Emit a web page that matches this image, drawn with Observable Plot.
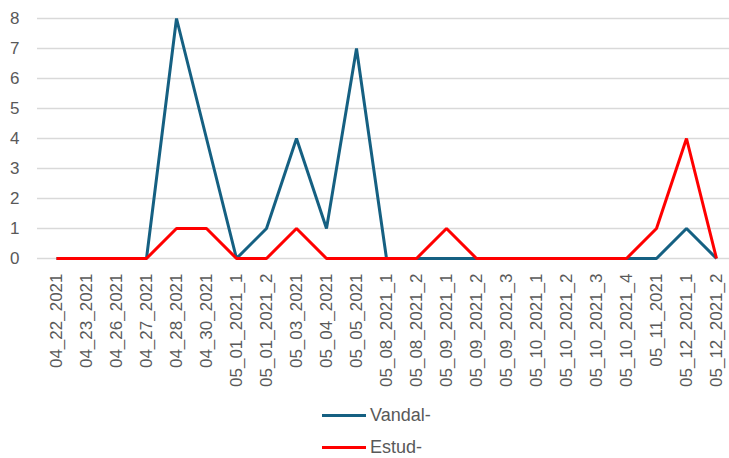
<!DOCTYPE html>
<html>
<head>
<meta charset="utf-8">
<script src="https://cdn.jsdelivr.net/npm/d3@7"></script>
<script src="https://cdn.jsdelivr.net/npm/@observablehq/plot@0.6"></script>
<style>
  html, body { margin: 0; padding: 0; background: #fff; overflow: hidden; }
  #chart { width: 729px; height: 458px; overflow: hidden; position: relative; }
  #chart svg { max-width: none; display: block; }
  .legend { font-family: "Liberation Sans", Arial, sans-serif; font-size: 18px; color: #595959; }
  .legend .item { display: flex; align-items: center; height: 20px; margin-left: 322px; }
  .legend .item:first-child { margin-top: 15px; }
  .legend .item + .item { margin-top: 12px; }
  .legend .sw { width: 44px; height: 3px; margin-right: 4px; }
</style>
</head>
<body>
<div id="chart"></div>
<script>
const categories = [
  "04_22_2021","04_23_2021","04_26_2021","04_27_2021","04_28_2021","04_30_2021",
  "05_01_2021_1","05_01_2021_2","05_03_2021","05_04_2021","05_05_2021",
  "05_08_2021_1","05_08_2021_2","05_09_2021_1","05_09_2021_2","05_09_2021_3",
  "05_10_2021_1","05_10_2021_2","05_10_2021_3","05_10_2021_4","05_11_2021",
  "05_12_2021_1","05_12_2021_2"
];
const vandal = [0,0,0,0,8,4,0,1,4,1,7,0,0,0,0,0,0,0,0,0,0,1,0];
const estud  = [0,0,0,0,1,1,0,0,1,0,0,0,0,1,0,0,0,0,0,0,1,4,0];
const seriesNames = ["Vandal-", "Estud-"];
const seriesColors = ["#156082", "#ff0000"];
const yTicks = [0,1,2,3,4,5,6,7,8];

const rows = [];
[vandal, estud].forEach((vals, s) => {
  vals.forEach((v, i) => rows.push({cat: categories[i], value: v, series: seriesNames[s]}));
});

const plot = Plot.plot({
  width: 729,
  height: 390,
  marginLeft: 37,
  marginRight: 0,
  marginTop: 18,
  marginBottom: 132,
  style: {fontFamily: "'Liberation Sans', Arial, sans-serif", color: "#595959", background: "#fff", overflow: "visible"},
  x: {type: "point", domain: categories, padding: 0, insetLeft: 11, insetRight: 5, label: null},
  y: {domain: [0, 8], ticks: yTicks, label: null},
  color: {domain: seriesNames, range: seriesColors},
  marks: [
    Plot.ruleY(yTicks, {stroke: "#d9d9d9", strokeWidth: 1.5}),
    Plot.axisY({ticks: yTicks, tickSize: 0, tickPadding: 18, fontSize: 17, tickFormat: d => String(d), fill: "#595959"}),
    Plot.axisX({tickSize: 0, tickPadding: 15, tickRotate: -90, fontSize: 17, fill: "#595959"}),
    Plot.line(rows, {x: "cat", y: "value", z: "series", stroke: "series", strokeWidth: 3, strokeLinejoin: "miter", strokeLinecap: "butt"})
  ]
});
document.getElementById("chart").appendChild(plot);

const legend = document.createElement("div");
legend.className = "legend";
seriesNames.forEach((name, i) => {
  const item = document.createElement("div");
  item.className = "item";
  const sw = document.createElement("span");
  sw.className = "sw";
  sw.style.background = seriesColors[i];
  const t = document.createElement("span");
  t.textContent = name;
  item.appendChild(sw);
  item.appendChild(t);
  legend.appendChild(item);
});
document.getElementById("chart").appendChild(legend);
</script>
</body>
</html>
